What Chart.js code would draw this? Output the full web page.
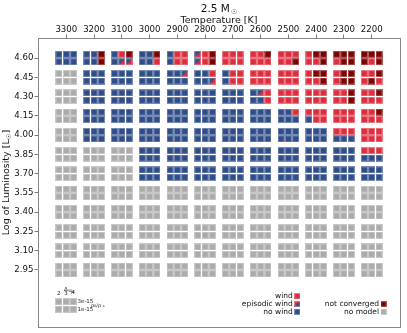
<!DOCTYPE html>
<html>
<head>
<meta charset="utf-8">
<script src="https://cdn.jsdelivr.net/npm/chart.js@4"></script>
<style>
  html, body { margin: 0; padding: 0; background: #fff; }
  #wrap { width: 407px; height: 333px; }
</style>
</head>
<body>
<div id="wrap"><canvas id="chart" width="407" height="333"></canvas></div>
<script>
const temperatures = [3300, 3200, 3100, 3000, 2900, 2800, 2700, 2600, 2500, 2400, 2300, 2200];
const luminosities = [4.60, 4.45, 4.30, 4.15, 4.00, 3.85, 3.70, 3.55, 3.40, 3.25, 3.10, 2.95];
const deltaUp = [2, 3, 4];
const densities = ["3e-15", "1e-15"];

// N = no wind, W = wind, E = episodic wind, C = not converged, X = no model
// one string per luminosity row, one group per temperature (du_p = 2, 3, 4)
const statusRho3e15 = [
  "NNN NNC NWC NNC NWW EWC WWW WWC WWW WCC CCC CCC",
  "XXX NNN NNN NNN NNE NNW NWW WWW WWW WCC WCC WWC",
  "XXX NNN NNN NNN NNN NNN NNN NEW WWW WWW WWC WWC",
  "XXX NNN NNN NNN NNN NNN NNN NNN NNW WWW WWW WWC",
  "XXX NNN NNN NNN NNN NNN NNN NNN NNN NNN WWW WWW",
  "XXX XXX XXX NNN NNN NNN NNN NNN NNN NNN NNN WWW",
  "XXX XXX XXX NNN NNN NNN NNN NNN NNN NNN NNN NNN",
  "XXX XXX XXX XXX XXX XXX XXX XXX XXX XXX XXX XXX",
  "XXX XXX XXX XXX XXX XXX XXX XXX XXX XXX XXX XXX",
  "XXX XXX XXX XXX XXX XXX XXX XXX XXX XXX XXX XXX",
  "XXX XXX XXX XXX XXX XXX XXX XXX XXX XXX XXX XXX",
  "XXX XXX XXX XXX XXX XXX XXX XXX XXX XXX XXX XXX"
];
const statusRho1e15 = [
  "NNN NNC NEE NNW NWW EWC WWW WWW WWC WWC WCC CWC",
  "XXX NNN NNN NNN NNN NNE NWW WWW WWW WWC WCC WCW",
  "XXX NNN NNN NNN NNN NNN NNN NNW WWW WWW WWC WWW",
  "XXX NNN NNN NNN NNN NNN NNN NNN NNN NWW WWW WWW",
  "XXX NNN NNN NNN NNN NNN NNN NNN NNN NNN NNN WWW",
  "XXX XXX XXX NNN NNN NNN NNN NNN NNN NNN NNN NNN",
  "XXX XXX XXX NNN NNN NNN NNN NNN NNN NNN NNN NNN",
  "XXX XXX XXX XXX XXX XXX XXX XXX XXX XXX XXX XXX",
  "XXX XXX XXX XXX XXX XXX XXX XXX XXX XXX XXX XXX",
  "XXX XXX XXX XXX XXX XXX XXX XXX XXX XXX XXX XXX",
  "XXX XXX XXX XXX XXX XXX XXX XXX XXX XXX XXX XXX",
  "XXX XXX XXX XXX XXX XXX XXX XXX XXX XXX XXX XXX"
];

const statusCodes = ["W", "E", "N", "C", "X"];
const statusLabels = ["wind", "episodic wind", "no wind", "not converged", "no model"];

const BLUE = "#2e4d8a";
const RED = "#dd2e3e";
const DARK = "#7d0202";
const GRAY = "#ababab";

// spacing of the sub-squares inside one (T, L) cell, in data units
const subStepT = 26.4;
const subStepL = 0.029;

function makeTile(fill, fill2) {
  const c = document.createElement("canvas");
  c.width = 7;
  c.height = 7;
  const g = c.getContext("2d");
  g.fillStyle = fill;
  g.fillRect(0, 0, 7, 7);
  if (fill2) {
    g.beginPath();
    g.moveTo(7, 0);
    g.lineTo(7, 7);
    g.lineTo(0, 7);
    g.closePath();
    g.fillStyle = fill2;
    g.fill();
  }
  g.strokeStyle = "rgba(255,255,255,0.35)";
  g.lineWidth = 1;
  g.strokeRect(0.5, 0.5, 6, 6);
  return c;
}

const tiles = {
  W: makeTile(RED),
  E: makeTile(BLUE, RED),
  N: makeTile(BLUE),
  C: makeTile(DARK),
  X: makeTile(GRAY)
};
const legendEpisodic = makeTile(RED, BLUE);

function buildPoints(code) {
  const pts = [];
  [statusRho3e15, statusRho1e15].forEach((rows, d) => {
    rows.forEach((row, r) => {
      row.split(" ").forEach((cell, c) => {
        cell.split("").forEach((s, k) => {
          if (s !== code) return;
          pts.push({
            x: temperatures[c] + (deltaUp[1] - deltaUp[k]) * subStepT,
            y: luminosities[r] + (d === 0 ? 1 : -1) * subStepL
          });
        });
      });
    });
  });
  return pts;
}

const datasets = statusCodes.map((code, i) => ({
  label: statusLabels[i],
  data: buildPoints(code),
  pointStyle: tiles[code],
  pointRadius: 4,
  pointHoverRadius: 4
}));

const FONT = "'DejaVu Sans', sans-serif";

const decorPlugin = {
  id: "decor",
  afterDraw(chart) {
    const ctx = chart.ctx;
    const a = chart.chartArea;
    ctx.save();

    // frame
    ctx.strokeStyle = "#888";
    ctx.lineWidth = 1;
    ctx.strokeRect(a.left + 0.5, a.top + 0.5, a.right - a.left, a.bottom - a.top);

    // title 2.5 M_sun
    ctx.fillStyle = "#111";
    ctx.textBaseline = "alphabetic";
    ctx.font = "10.5px " + FONT;
    const t1 = "2.5 M";
    ctx.font = "10.5px " + FONT;
    const w1 = ctx.measureText(t1).width;
    ctx.font = "7px " + FONT;
    const w2 = ctx.measureText("\u2609").width;
    const cx = (a.left + a.right) / 2;
    const x0 = cx - (w1 + w2 + 1) / 2;
    ctx.font = "10.5px " + FONT;
    ctx.textAlign = "left";
    ctx.fillText(t1, x0, 12);
    ctx.font = "7px " + FONT;
    ctx.fillText("\u2609", x0 + w1 + 1, 14);

    // y axis title
    ctx.save();
    ctx.translate(7, (a.top + a.bottom) / 2);
    ctx.rotate(-Math.PI / 2);
    ctx.textBaseline = "middle";
    ctx.font = "9.5px " + FONT;
    const y1 = "Log of Luminosity [L";
    const yw1 = ctx.measureText(y1).width;
    ctx.font = "6.5px " + FONT;
    const yw2 = ctx.measureText("\u2609").width;
    ctx.font = "9.5px " + FONT;
    const yw3 = ctx.measureText("]").width;
    let yx = -(yw1 + yw2 + yw3) / 2;
    ctx.textAlign = "left";
    ctx.fillText(y1, yx, 0);
    ctx.font = "6.5px " + FONT;
    ctx.fillText("\u2609", yx + yw1, 2.5);
    ctx.font = "9.5px " + FONT;
    ctx.fillText("]", yx + yw1 + yw2, 0);
    ctx.restore();

    // small key cell: du_p columns and density rows
    const kx = 66, ky = 305.5;
    deltaUp.forEach((du, k) => {
      densities.forEach((rho, d) => {
        ctx.drawImage(tiles.X, kx + (k - 1) * 7.33 - 3.5, ky + (d === 0 ? -3.75 : 3.75) - 3.5);
      });
    });
    ctx.fillStyle = "#222";
    ctx.font = "5.5px " + FONT;
    ctx.textAlign = "center";
    ctx.textBaseline = "middle";
    ctx.fillText(String(deltaUp[0]), kx - 7.33, 293.5);
    ctx.fillText(String(deltaUp[1]), kx, 294);
    ctx.fillText(String(deltaUp[2]), kx + 7.33, 292.5);
    ctx.fillText("\u0394", kx, 289.5);
    ctx.textAlign = "left";
    ctx.fillText("u", kx + 2.2, 290.5);
    ctx.font = "4px " + FONT;
    ctx.fillText("p", kx + 5.3, 292.2);
    ctx.font = "5.5px " + FONT;
    ctx.fillText(densities[0], 77.5, 301.5);
    ctx.fillText(densities[1], 77.5, 309.3);
    ctx.font = "5px " + FONT;
    ctx.fillText("\u03c1", 91, 305.3);
    ctx.font = "3.5px " + FONT;
    ctx.fillText("0", 94, 306.5);
    ctx.font = "5px " + FONT;
    ctx.fillText("/\u03c1", 96.3, 305.3);
    ctx.font = "3.5px " + FONT;
    ctx.fillText("s", 102.8, 306.5);

    // status legend
    const legendItems = [
      { label: statusLabels[0], tile: tiles.W, x: 294.3, y: 293.3 },
      { label: statusLabels[1], tile: legendEpisodic, x: 294.3, y: 301 },
      { label: statusLabels[2], tile: tiles.N, x: 294.3, y: 308.7 },
      { label: statusLabels[3], tile: tiles.C, x: 380.5, y: 301 },
      { label: statusLabels[4], tile: tiles.X, x: 380.5, y: 308.7 }
    ];
    ctx.font = "7.5px " + FONT;
    ctx.fillStyle = "#111";
    ctx.textAlign = "right";
    ctx.textBaseline = "middle";
    legendItems.forEach((it) => {
      ctx.drawImage(it.tile, it.x, it.y, 6, 6);
      ctx.fillText(it.label, it.x - 1.5, it.y + 3.2);
    });

    ctx.restore();
  }
};

new Chart(document.getElementById("chart"), {
  type: "scatter",
  data: { datasets },
  plugins: [decorPlugin],
  options: {
    animation: false,
    responsive: false,
    devicePixelRatio: 1,
    layout: { padding: { left: 0, right: 7, top: 15, bottom: 6 } },
    events: [],
    scales: {
      x: {
        type: "linear",
        position: "top",
        reverse: true,
        min: 2098,
        max: 3402,
        afterBuildTicks: (s) => { s.ticks = temperatures.map((v) => ({ value: v })); },
        afterFit: (s) => { s.height = 23; },
        ticks: {
          autoSkip: false,
          maxRotation: 0,
          padding: 0,
          color: "#111",
          font: { family: FONT, size: 8.6, lineHeight: 1 },
          callback: (v) => String(v)
        },
        grid: { drawOnChartArea: false, drawTicks: true, tickLength: 3.5, color: "#555", lineWidth: 0.8 },
        border: { display: false },
        title: {
          display: true,
          text: "Temperature [K]",
          color: "#111",
          padding: 0,
          font: { family: FONT, size: 9.5 }
        }
      },
      y: {
        type: "linear",
        position: "left",
        min: 2.506,
        max: 4.756,
        afterBuildTicks: (s) => { s.ticks = luminosities.map((v) => ({ value: v })); },
        afterFit: (s) => { s.width = 38; },
        ticks: {
          autoSkip: false,
          padding: 1,
          color: "#111",
          font: { family: FONT, size: 8.6, lineHeight: 1 },
          callback: (v) => Number(v).toFixed(2)
        },
        grid: { drawOnChartArea: false, drawTicks: true, tickLength: 3.5, color: "#555", lineWidth: 0.8 },
        border: { display: false }
      }
    },
    plugins: {
      legend: { display: false },
      tooltip: { enabled: false }
    }
  }
});
</script>
</body>
</html>
